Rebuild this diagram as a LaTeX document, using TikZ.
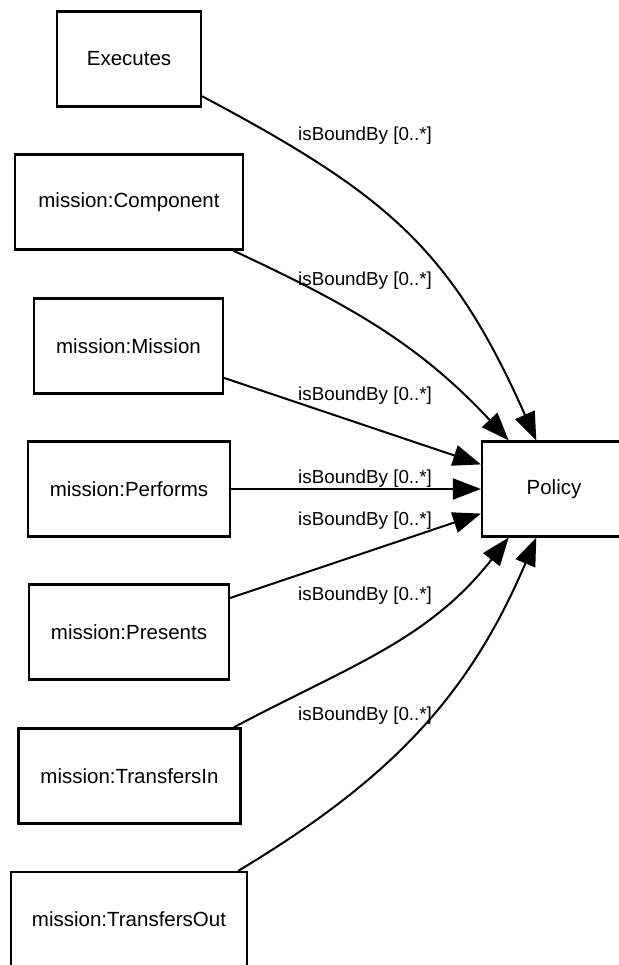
\documentclass[tikz,border=0pt]{standalone}
\usepackage{fontspec}
\setmainfont{Liberation Sans}
\usetikzlibrary{arrows.meta, positioning, calc}

\begin{document}
\begin{tikzpicture}[
    x=1pt, y=1pt,
    cls/.style={
        rectangle, draw, line width=2.2pt, minimum height=95pt, inner sep=0pt,
        font=\fontsize{20.5}{24}\selectfont
    },
    role/.style={font=\fontsize{18.8}{22}\selectfont, inner sep=0pt, anchor=west},
    edge/.style={-{Triangle[length=28pt,width=21pt]}, line width=2pt},
]
\useasboundingbox (0,0) rectangle (618,965);

% Nodes
\node[cls, minimum width=144pt] (exe)  at (129,906)   {Executes};
\node[cls, minimum width=228pt] (comp) at (129,763)   {mission:Component};
\node[cls, minimum width=189pt] (mis)  at (128.5,619) {mission:Mission};
\node[cls, minimum width=202pt] (perf) at (129,476)   {mission:Performs};
\node[cls, minimum width=200pt] (pres) at (129,333)   {mission:Presents};
\node[cls, minimum width=222pt] (tin)  at (129.5,189) {mission:TransfersIn};
\node[cls, minimum width=236pt] (tout) at (129,45.5)  {mission:TransfersOut};

\node[cls, minimum width=144pt] (pol)  at (554,476)   {Policy};

% Edges with role labels

% Executes -> Policy
\draw[edge] (exe.-27) to[out=-28, in=114, looseness=1.12] (pol.110);
\node[role] (lexe) at (298,829) {isBoundBy [0..*]};

% mission:Component -> Policy
\draw[edge] (comp.-25) to[out=-25, in=133] (pol.133);
\node[role] (lcomp) at (298,684) {isBoundBy [0..*]};

% mission:Mission -> Policy
\draw[edge] (mis) -- (pol);
\node[role] (lmis) at (298,569) {isBoundBy [0..*]};

% mission:Performs -> Policy
\draw[edge] (perf) -- (pol);
\node[role] (lperf) at (298,486) {isBoundBy [0..*]};

% mission:Presents -> Policy
\draw[edge] (pres) -- (pol);
\node[role] (lpres) at (298,444) {isBoundBy [0..*]};

% mission:TransfersIn -> Policy
\draw[edge] (tin.25) to[out=28, in=-128] (pol.-133);
\node[role] (ltin) at (298,369) {isBoundBy [0..*]};

% mission:TransfersOut -> Policy
\draw[edge] (tout.24) to[out=31, in=-113] (pol.-110);
\node[role] (ltout) at (298,249) {isBoundBy [0..*]};

\end{tikzpicture}
\end{document}
